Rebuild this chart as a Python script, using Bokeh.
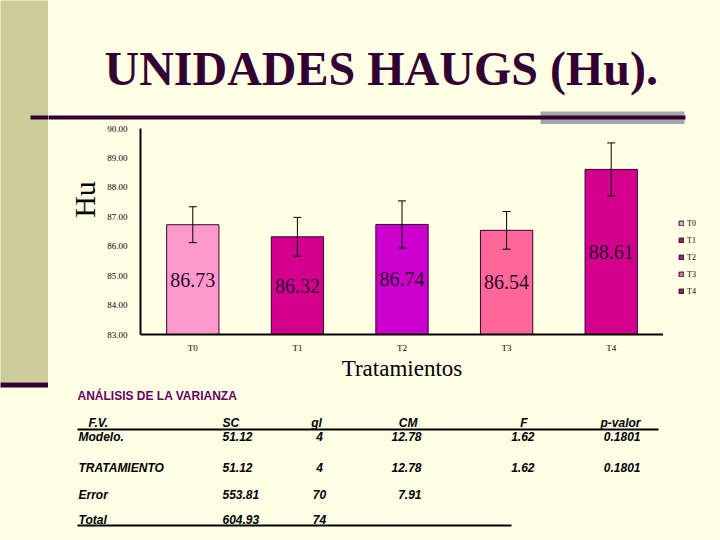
import math
from bokeh.plotting import figure
from bokeh.layouts import column, row
from bokeh.models import (ColumnDataSource, FactorRange, Range1d, Whisker, TeeHead,
                          Legend, LegendItem, NumeralTickFormatter, FixedTicker)
from bokeh.embed import file_html
from bokeh.resources import INLINE
from bokeh.core.properties import value

# ---------------- data ----------------
treatments = ["T0", "T1", "T2", "T3", "T4"]
means = [86.73, 86.32, 86.74, 86.54, 88.61]
errors = [0.61, 0.66, 0.80, 0.64, 0.90]
bar_colors = ["#FF99CC", "#D2008C", "#CC00CC", "#FF6699", "#D2008C"]
legend_colors = ["#DDB3C8", "#9E1F5E", "#8A2A96", "#CF7A9E", "#862A50"]
y_ticks = [83, 84, 85, 86, 87, 88, 89, 90]

title_text = "UNIDADES HAUGS (Hu)."
y_label = "Hu"
x_label = "Tratamientos"

anova_title = "ANÁLISIS DE LA VARIANZA"
anova_header = ["F.V.", "SC", "gl", "CM", "F", "p-valor"]
anova_fv = ["Modelo.", "TRATAMIENTO", "Error", "Total"]
anova_sc = ["51.12", "51.12", "553.81", "604.93"]
anova_gl = ["4", "4", "70", "74"]
anova_cm = ["12.78", "12.78", "7.91", ""]
anova_f = ["1.62", "1.62", "", ""]
anova_p = ["0.1801", "0.1801", "", ""]

# ---------------- styles ----------------
CREAM = "#FFFFE5"
OLIVE = "#CCCC99"
DARK = "#330033"
SERIF = "Liberation Serif"
SANS = "Liberation Sans"
PAGE_W, PAGE_H = 720, 540
STRIPE_W = 48

def panel(w, h, y_top, y_bot, x_left=0):
    f = figure(width=w, height=h, x_range=Range1d(x_left, x_left + w),
               y_range=Range1d(y_bot, y_top), x_axis_type=None, y_axis_type=None,
               output_backend="svg", toolbar_location=None, min_border=0,
               frame_align=False)
    f.background_fill_color = CREAM
    f.border_fill_color = CREAM
    f.outline_line_color = None
    f.grid.visible = False
    return f

# ---------------- left stripe (full height) ----------------
stripe = panel(STRIPE_W, PAGE_H, 0, PAGE_H)
stripe.quad(left=-5, right=STRIPE_W + 5, top=-5, bottom=382, fill_color=OLIVE, line_color=None)
stripe.quad(left=-5, right=STRIPE_W + 5, top=382, bottom=387, fill_color=DARK, line_color=None)
stripe.quad(left=30, right=STRIPE_W + 5, top=115, bottom=119, fill_color=DARK, line_color=None)

# ---------------- top band (title) ----------------
TOP_H = 124
top = panel(PAGE_W - STRIPE_W, TOP_H, 0, TOP_H, x_left=STRIPE_W)
top.quad(left=540, right=684, top=111, bottom=TOP_H + 5, fill_color="#A6A6A6", line_color=None)
top.quad(left=STRIPE_W - 5, right=685, top=115, bottom=119, fill_color=DARK, line_color=None)
top.text(x=[104], y=[68], text=[title_text], text_font=value(SERIF), text_font_style="bold",
         text_font_size="48px", text_color=DARK, text_align="left", text_baseline="middle")

# ---------------- middle band ----------------
MID_TOP, MID_BOT = TOP_H, 384
MID_H = MID_BOT - MID_TOP
FRAME_L, FRAME_R = 140, 663
FRAME_T, FRAME_B = 128, 334
HU_R = 100
hu = panel(HU_R - STRIPE_W, MID_H, MID_TOP, MID_BOT, x_left=STRIPE_W)
hu.text(x=[84], y=[199], text=[y_label], text_font=value(SERIF), text_font_size="30px",
        text_color="black", text_align="center", text_baseline="middle", angle=math.pi / 2)

y0, y1 = y_ticks[0], y_ticks[-1]
src = ColumnDataSource(dict(
    t=treatments,
    m=means,
    upper=[m + e for m, e in zip(means, errors)],
    lower=[m - e for m, e in zip(means, errors)],
    mid=[(y0 + m) / 2 for m in means],
    label=[f"{m:.2f}" for m in means],
    color=bar_colors,
))

p = figure(width=FRAME_R - HU_R, height=MID_H,
           x_range=FactorRange(factors=treatments, range_padding=0),
           y_range=Range1d(y0, y1),
           output_backend="svg", toolbar_location=None,
           min_border_left=FRAME_L - HU_R, min_border_right=0,
           min_border_top=FRAME_T - MID_TOP, min_border_bottom=MID_BOT - FRAME_B,
           frame_align=False)
p.background_fill_color = CREAM
p.border_fill_color = CREAM
p.outline_line_color = None
p.xgrid.grid_line_color = None
p.ygrid.grid_line_color = None

p.yaxis.ticker = FixedTicker(ticks=y_ticks)
p.yaxis.formatter = NumeralTickFormatter(format="0.00")
for ax in (p.xaxis[0], p.yaxis[0]):
    ax.axis_line_width = 2
    ax.axis_line_color = "black"
    ax.major_tick_line_color = None
    ax.minor_tick_line_color = None
    ax.major_label_text_font = SERIF
    ax.major_label_text_font_size = "9px"
    ax.major_label_text_color = "black"
p.yaxis.major_label_standoff = 7
p.xaxis.major_label_standoff = 2
p.xaxis.axis_label = x_label
p.xaxis.axis_label_text_font = SERIF
p.xaxis.axis_label_text_font_size = "23px"
p.xaxis.axis_label_text_font_style = "normal"
p.xaxis.axis_label_text_color = "black"
p.xaxis.axis_label_standoff = 0

p.vbar(x="t", top="m", bottom=0, width=0.5, fill_color="color",
       line_color=DARK, line_width=1, source=src)

whisk = Whisker(base="t", upper="upper", lower="lower", source=src,
                line_color="black", line_width=1, level="annotation",
                upper_head=TeeHead(size=8, line_color="black", line_width=1),
                lower_head=TeeHead(size=8, line_color="black", line_width=1))
p.add_layout(whisk)

p.text(x="t", y="mid", text="label", source=src, text_align="center",
       text_baseline="middle", text_font=value(SERIF),
       text_font_size="20px", text_color="#2B0A2B")

# legend panel to the right of the chart
legfig = panel(PAGE_W - FRAME_R, MID_H, MID_TOP, MID_BOT, x_left=FRAME_R)
items = []
for t, c in zip(treatments, legend_colors):
    # one hidden swatch per item, placed outside the visible range
    r = legfig.quad(left=[-100], right=[-90], top=[-100], bottom=[-90], fill_color=c,
                    line_color="#2B0A2B", line_width=1)
    items.append(LegendItem(label=t, renderers=[r]))
leg = Legend(items=items, location=(15, MID_BOT - 296), orientation="vertical",
             glyph_width=6, glyph_height=6, label_height=10, spacing=7,
             padding=0, margin=0, label_standoff=3,
             label_text_font=SERIF, label_text_font_size="8px", label_text_color="black",
             border_line_color=None, background_fill_alpha=0)
legfig.add_layout(leg)

# ---------------- bottom band (ANOVA table) ----------------
BOT_TOP = MID_BOT
bot = panel(PAGE_W - STRIPE_W, PAGE_H - BOT_TOP, BOT_TOP, PAGE_H, x_left=STRIPE_W)

def txt(x, y, s, size="12px", font=SANS, style="bold italic", color="black", align="left"):
    if s:
        bot.text(x=[x], y=[y], text=[s], text_font=value(font), text_font_style=style,
                 text_font_size=size, text_color=color, text_align=align,
                 text_baseline="middle")

txt(77, 395, anova_title, size="12px", style="bold", color="#660066")
hy = 422
txt(88, hy, anova_header[0])
txt(222, hy, anova_header[1])
txt(316, hy, anova_header[2], align="center")
txt(417, hy, anova_header[3], align="right")
txt(527, hy, anova_header[4], align="right")
txt(640, hy, anova_header[5], align="right")
bot.quad(left=77, right=658, top=428, bottom=430, fill_color="black", line_color=None)

row_y = [436, 467, 494, 519]
for i, ry in enumerate(row_y):
    txt(78, ry, anova_fv[i])
    txt(222, ry, anova_sc[i])
    txt(319, ry, anova_gl[i], align="center")
    txt(421, ry, anova_cm[i], align="right")
    txt(534, ry, anova_f[i], align="right")
    txt(640, ry, anova_p[i], align="right")
bot.quad(left=77, right=511, top=524, bottom=526, fill_color="black", line_color=None)

right_part = column(top, row(hu, p, legfig, spacing=0), bot, spacing=0,
                    styles={"background-color": CREAM})
layout = row(stripe, right_part, spacing=0, styles={"background-color": CREAM})
open("out.html", "w").write(file_html(layout, INLINE))
